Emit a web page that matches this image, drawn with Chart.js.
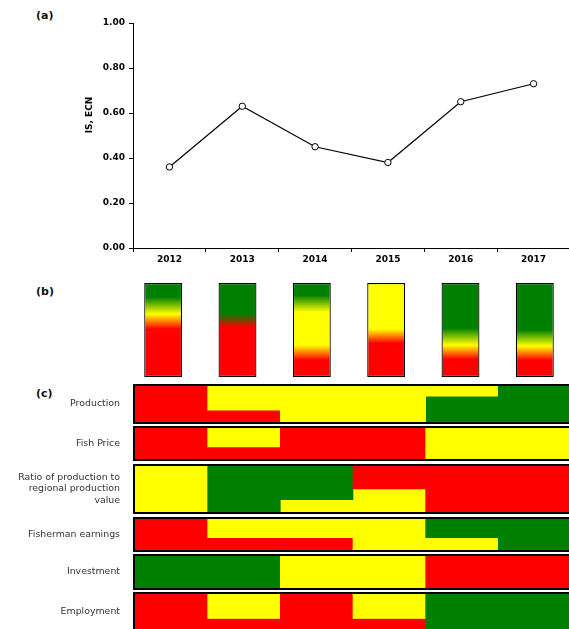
<!DOCTYPE html>
<html>
<head>
<meta charset="utf-8">
<script src="https://cdn.jsdelivr.net/npm/chart.js@4/dist/chart.umd.min.js"></script>
<style>
  html, body { margin: 0; padding: 0; background: #fff; overflow: hidden; }
  #page { position: relative; width: 569px; height: 629px; overflow: hidden; }
  #page canvas { position: absolute; left: 0; }
  .tag { position: absolute; left: 36px; font: bold 11px "DejaVu Sans", sans-serif; color: #111; line-height: 13px; }
</style>
</head>
<body>
<div id="page">
  <div class="tag" style="top:9px">(a)</div>
  <canvas id="lineChart" width="575" height="270" style="top:0"></canvas>
  <div class="tag" style="top:285px">(b)</div>
  <canvas id="bandChart" width="575" height="110" style="top:270px"></canvas>
  <div class="tag" style="top:387px">(c)</div>
</div>
<script>
// ---- data ----
const years = ['2012', '2013', '2014', '2015', '2016', '2017'];
const sustainabilityIndex = [0.36, 0.63, 0.45, 0.38, 0.65, 0.73];

// colour codes for status: R = poor, Y = moderate, G = good
const statusColors = { R: '#ff0000', Y: '#ffff00', G: '#008000' };

// status bands per year (share from top, status)
const bandStops = [
  [[0, 'G'], [0.15, 'G'], [0.33, 'Y'], [0.49, 'R'], [1, 'R']],
  [[0, 'G'], [0.33, 'G'], [0.47, 'R'], [1, 'R']],
  [[0, 'G'], [0.13, 'G'], [0.31, 'Y'], [0.66, 'Y'], [0.82, 'R'], [1, 'R']],
  [[0, 'Y'], [0.49, 'Y'], [0.64, 'R'], [1, 'R']],
  [[0, 'G'], [0.48, 'G'], [0.66, 'Y'], [0.81, 'R'], [1, 'R']],
  [[0, 'G'], [0.50, 'G'], [0.67, 'Y'], [0.82, 'R'], [1, 'R']]
];

// indicator cells per year: [top status, top share, bottom status]
const production        = [['R'], ['Y', 0.67, 'R'], ['Y'], ['Y'], ['Y', 0.28, 'G'], ['G']];
const fishPrice         = [['R'], ['Y', 0.61, 'R'], ['R'], ['R'], ['Y'], ['Y']];
const productionRatio   = [['Y'], ['G'], ['G', 0.73, 'Y'], ['R', 0.50, 'Y'], ['R'], ['R']];
const fishermanEarnings = [['R'], ['Y', 0.60, 'R'], ['Y', 0.60, 'R'], ['Y'], ['G', 0.60, 'Y'], ['G']];
const investment        = [['G'], ['G'], ['Y'], ['Y'], ['R'], ['R']];
const employment        = [['R'], ['Y', 0.68, 'R'], ['R'], ['Y', 0.68, 'R'], ['G'], ['G']];

const indicatorLabels = [
  'Production',
  'Fish Price',
  ['Ratio of production to', 'regional production', 'value'],
  'Fisherman earnings',
  'Investment',
  'Employment'
];
const indicatorCells = [production, fishPrice, productionRatio, fishermanEarnings, investment, employment];

// ---- layout of the indicator strips (page position and height) ----
const stripLayout = [
  { top: 384, height: 40 },
  { top: 426, height: 35 },
  { top: 464, height: 50 },
  { top: 517, height: 35 },
  { top: 554, height: 36 },
  { top: 592, height: 40 }
];

const FONT = '"DejaVu Sans", sans-serif';
const common = {
  responsive: false,
  animation: false,
  events: [],
  plugins: { legend: { display: false }, tooltip: { enabled: false } }
};

// ---- (a) index line ----
const axisTitle = {
  id: 'axisTitle',
  afterDraw(chart) {
    const { ctx, chartArea } = chart;
    ctx.save();
    ctx.translate(89.5, chartArea.top + 92);
    ctx.rotate(-Math.PI / 2);
    ctx.font = 'bold 9px ' + FONT;
    ctx.fillStyle = '#000';
    ctx.textAlign = 'center';
    ctx.textBaseline = 'middle';
    ctx.fillText('IS, ECN', 0, 0);
    ctx.restore();
  }
};

new Chart(document.getElementById('lineChart'), {
  type: 'line',
  data: {
    labels: years,
    datasets: [{
      data: sustainabilityIndex,
      borderColor: '#000',
      borderWidth: 1.2,
      tension: 0,
      pointRadius: 3.2,
      pointBorderWidth: 1,
      pointBackgroundColor: '#fff',
      pointBorderColor: '#000'
    }]
  },
  options: {
    ...common,
    layout: { padding: { top: 23, right: 5, bottom: 0, left: 0 } },
    scales: {
      x: {
        offset: true,
        grid: { offset: true, drawOnChartArea: false, tickLength: 4, color: '#000' },
        border: { color: '#000', width: 1 },
        ticks: { color: '#000', padding: 2, font: { family: FONT, size: 9, weight: 'bold' } },
        afterFit(s) { s.height = 22; }
      },
      y: {
        min: 0, max: 1,
        grid: { drawOnChartArea: false, tickLength: 4, color: '#000' },
        border: { color: '#000', width: 1 },
        ticks: {
          stepSize: 0.2,
          padding: 4,
          color: '#000',
          font: { family: FONT, size: 9, weight: 'bold' },
          callback: v => v.toFixed(2)
        },
        afterFit(s) { s.width = 133; }
      }
    }
  },
  plugins: [axisTitle]
});

// ---- (b) status bands ----
function bandFill(ctx) {
  if (ctx.type !== 'data') return statusColors.G;
  const chart = ctx.chart;
  if (!chart.chartArea) return statusColors.G;
  const y = chart.scales.y;
  const g = chart.ctx.createLinearGradient(0, y.getPixelForValue(1), 0, y.getPixelForValue(0));
  bandStops[ctx.dataIndex].forEach(([p, c]) => g.addColorStop(p, statusColors[c]));
  return g;
}

new Chart(document.getElementById('bandChart'), {
  type: 'bar',
  data: {
    labels: years,
    datasets: [{
      data: years.map(() => [0, 1]),
      backgroundColor: bandFill,
      borderColor: '#000',
      borderWidth: 1.2,
      borderSkipped: false,
      categoryPercentage: 1,
      barPercentage: 0.51
    }]
  },
  options: {
    ...common,
    layout: { padding: { top: 13, bottom: 3, left: 126, right: 3 } },
    scales: {
      x: { display: false },
      y: { display: false, min: 0, max: 1 }
    }
  }
});

// ---- (c) indicator strips ----
const stripFrame = {
  id: 'stripFrame',
  afterDatasetsDraw(chart) {
    const { ctx, chartArea: a } = chart;
    ctx.save();
    ctx.lineWidth = 2;
    ctx.strokeStyle = '#000';
    ctx.strokeRect(a.left - 1, a.top - 1, a.right - a.left + 2, a.bottom - a.top + 2);
    ctx.restore();
  }
};

const page = document.getElementById('page');
indicatorCells.forEach((cells, i) => {
  const canvas = document.createElement('canvas');
  canvas.width = 575;
  canvas.height = stripLayout[i].height;
  canvas.style.top = stripLayout[i].top + 'px';
  page.appendChild(canvas);

  const topShare = cells.map(c => (c.length > 1 ? c[1] : 1));
  const label = indicatorLabels[i];

  new Chart(canvas, {
    type: 'bar',
    data: {
      labels: years,
      datasets: [
        { data: topShare, backgroundColor: cells.map(c => statusColors[c[0]]) },
        { data: topShare.map(v => 1 - v), backgroundColor: cells.map(c => statusColors[c[c.length - 1]]) }
      ]
    },
    options: {
      ...common,
      layout: { padding: { top: 2, bottom: 2, left: 0, right: 4 } },
      datasets: { bar: { categoryPercentage: 1, barPercentage: 1, borderWidth: 0 } },
      scales: {
        x: { display: false, stacked: true, offset: true },
        y: {
          stacked: true, min: 0, max: 1, reverse: true,
          // transparent tick marks keep the label clear of the strip
          grid: { display: true, drawOnChartArea: false, drawTicks: true, tickLength: 15, color: 'rgba(0,0,0,0)' },
          border: { display: false },
          afterBuildTicks(s) { s.ticks = [{ value: 0.5 }]; },
          afterFit(s) { s.width = 135; s.paddingTop = 0; s.paddingBottom = 0; },
          ticks: {
            padding: 0,
            color: '#333',
            font: { family: FONT, size: 9.4 },
            callback: () => label
          }
        }
      }
    },
    plugins: [stripFrame]
  });
});
</script>
</body>
</html>
